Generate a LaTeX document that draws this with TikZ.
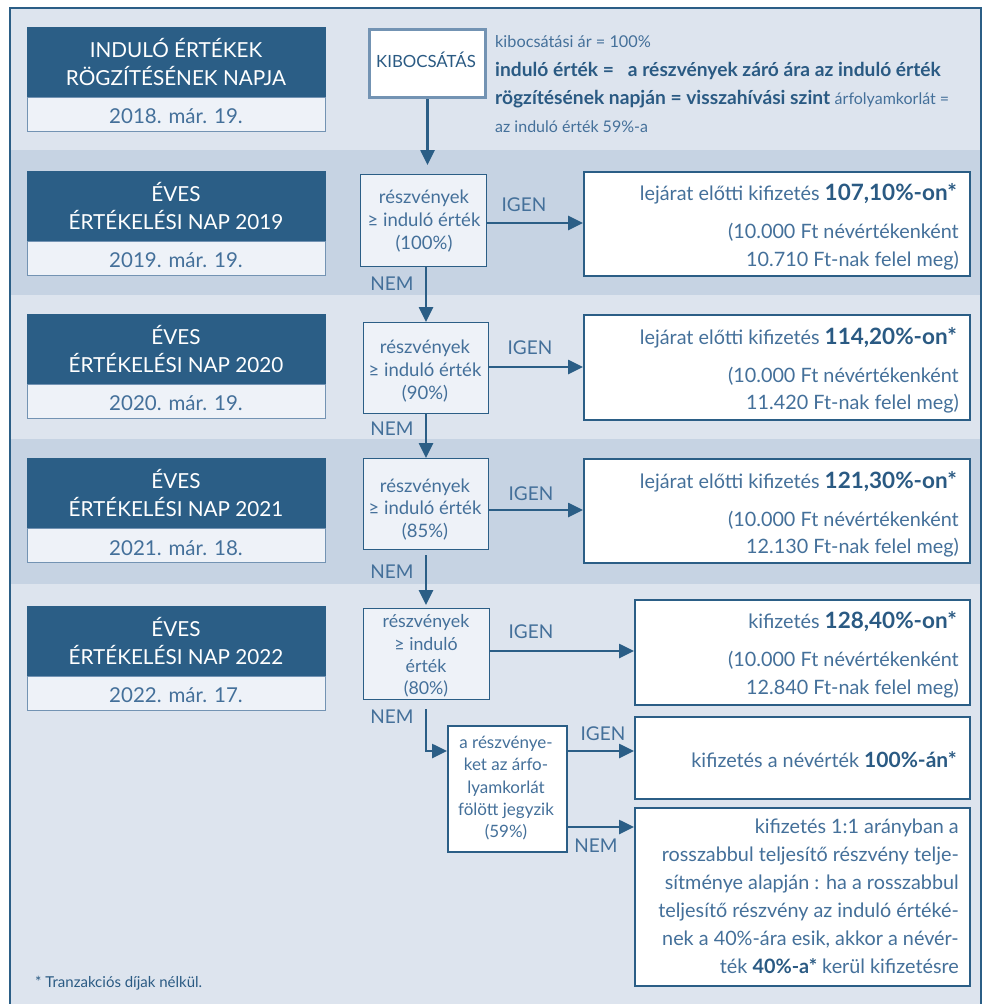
\documentclass[tikz,border=0pt]{standalone}
\usepackage{fontspec}
\setmainfont{Lato}
\usetikzlibrary{arrows.meta}
\definecolor{hdr}{HTML}{2B5E86}
\definecolor{bandL}{HTML}{DDE4EE}
\definecolor{bandD}{HTML}{C6D3E3}
\definecolor{cellL}{HTML}{EEF2F8}
\definecolor{txt}{HTML}{44709A}
\definecolor{btxt}{HTML}{2A5A83}
\definecolor{lbord}{HTML}{7393B3}
\newcommand{\bignum}[1]{\textcolor{btxt}{\bfseries\fontsize{22.5}{26}\selectfont #1}}
\tikzset{
  hdrtop/.style={fill=hdr, draw=hdr, line width=1pt, anchor=north west, minimum width=298pt, minimum height=70pt, inner sep=0pt},
  hdrbot/.style={fill=cellL, draw=lbord, line width=1.2pt, anchor=north west, minimum width=298pt, minimum height=34pt, inner sep=0pt},
  htxt/.style={text=white, font=\fontsize{20.7}{24}\selectfont, anchor=base, inner sep=0pt},
  dtxt/.style={text=txt, font=\fontsize{20.5}{24}\selectfont, anchor=base, inner sep=0pt},
  decbox/.style={fill=cellL, draw=hdr, line width=1.3pt, anchor=north west, inner sep=0pt},
  resbox/.style={fill=white, draw=hdr, line width=1.6pt, anchor=north west, inner sep=0pt},
  ctxt/.style={text=txt, font=\fontsize{18.5}{22}\selectfont, anchor=base, inner sep=0pt},
  c4txt/.style={text=txt, font=\fontsize{17.8}{22}\selectfont, anchor=base, inner sep=0pt},
  c5txt/.style={text=txt, font=\fontsize{17}{20}\selectfont, anchor=base, inner sep=0pt},
  rtxt/.style={text=txt, font=\fontsize{19.8}{24}\selectfont, anchor=base east, inner sep=0pt},
  ltxt/.style={text=txt, font=\fontsize{19}{22}\selectfont, anchor=base, inner sep=0pt},
  arr/.style={draw=hdr, line width=2.6pt, -{Triangle[length=15pt,width=14pt]}},
}
\begin{document}
\begin{tikzpicture}[x=1pt,y=-1pt]
\useasboundingbox (0,0) rectangle (987,1004);
\fill[white] (0,0) rectangle (987,1004);
% bands
\fill[bandL] (10,8) rectangle (981,150);
\fill[bandD] (10,150) rectangle (981,295);
\fill[bandL] (10,295) rectangle (981,439);
\fill[bandD] (10,439) rectangle (981,584);
\fill[bandL] (10,584) rectangle (981,1004);
\draw[hdr, line width=1.5pt] (10,1004) -- (10,8) -- (981,8) -- (981,1004);

% header boxes
\node[hdrtop] (h0t) at (27,27) {};
\node[hdrbot] (h0b) at (27,97) {};
\node[htxt] (h0a) at (176,57) {INDULÓ ÉRTÉKEK};
\node[htxt] (h0c) at (176,85) {RÖGZÍTÉSÉNEK NAPJA};
\node[dtxt] (h0d) at (176,123) {2018. már. 19.};

\node[hdrtop] (h1t) at (27,171) {};
\node[hdrbot] (h1b) at (27,241) {};
\node[htxt] (h1a) at (176,201) {ÉVES};
\node[htxt] (h1c) at (176,229) {ÉRTÉKELÉSI NAP 2019};
\node[dtxt] (h1d) at (176,267) {2019. már. 19.};

\node[hdrtop] (h2t) at (27,314) {};
\node[hdrbot] (h2b) at (27,384) {};
\node[htxt] (h2a) at (176,344) {ÉVES};
\node[htxt] (h2c) at (176,372) {ÉRTÉKELÉSI NAP 2020};
\node[dtxt] (h2d) at (176,410) {2020. már. 19.};

\node[hdrtop] (h3t) at (27,458) {};
\node[hdrbot] (h3b) at (27,528) {};
\node[htxt] (h3a) at (176,488) {ÉVES};
\node[htxt] (h3c) at (176,516) {ÉRTÉKELÉSI NAP 2021};
\node[dtxt] (h3d) at (176,555) {2021. már. 18.};

\node[hdrtop] (h4t) at (27,606) {};
\node[hdrbot] (h4b) at (27,676) {};
\node[htxt] (h4a) at (176,636) {ÉVES};
\node[htxt] (h4c) at (176,664) {ÉRTÉKELÉSI NAP 2022};
\node[dtxt] (h4d) at (176,702) {2022. már. 17.};

% kibocsatas
\node[fill=white, draw=lbord, line width=3pt, anchor=north west, minimum width=116pt, minimum height=68pt, inner sep=0pt] (k) at (368,28) {};
\node[text=btxt, font=\fontsize{16.8}{20}\selectfont, anchor=base, inner sep=0pt] (kt) at (426,67) {KIBOCSÁTÁS};

% top text
\node[text=txt, font=\fontsize{16.3}{19}\selectfont, anchor=base west, inner sep=0pt] (t1) at (495,47) {kibocsátási ár = 100\%};
\node[text=btxt, font=\fontsize{19.2}{22}\selectfont\bfseries, anchor=base west, inner sep=0pt] (t2) at (495,76) {induló érték =\hspace{14pt}a részvények záró ára az induló érték};
\node[anchor=base west, inner sep=0pt] (t3) at (495,104) {\fontsize{19.2}{22}\selectfont\bfseries\color{btxt}rögzítésének napján = visszahívási szint \fontsize{16}{19}\selectfont\mdseries\color{txt}árfolyamkorlát =};
\node[text=txt, font=\fontsize{16}{19}\selectfont, anchor=base west, inner sep=0pt] (t4) at (495,132) {az induló érték 59\%-a};

% decision boxes
\node[decbox, minimum width=126pt, minimum height=92pt] (d1) at (360,174) {};
\node[ctxt] (d1a) at (424,203) {részvények};
\node[ctxt] (d1b) at (424,226) {≥ induló érték};
\node[ctxt] (d1c) at (424,249) {(100\%)};

\node[decbox, minimum width=125pt, minimum height=91pt] (d2) at (363,322) {};
\node[ctxt] (d2a) at (425,353) {részvények};
\node[ctxt] (d2b) at (425,376) {≥ induló érték};
\node[ctxt] (d2c) at (425,399) {(90\%)};

\node[decbox, minimum width=125pt, minimum height=91pt] (d3) at (363,458) {};
\node[ctxt] (d3a) at (425,492) {részvények};
\node[ctxt] (d3b) at (425,514) {≥ induló érték};
\node[ctxt] (d3c) at (425,537) {(85\%)};

\node[decbox, minimum width=126pt, minimum height=91pt] (d4) at (363,608) {};
\node[c4txt] (d4a) at (426,627) {részvények};
\node[c4txt] (d4b) at (426,650) {≥ induló};
\node[c4txt] (d4c) at (426,672) {érték};
\node[c4txt] (d4d) at (426,694) {(80\%)};

\node[resbox, minimum width=119pt, minimum height=126pt] (b5) at (447,725) {};
\node[c5txt] (b5a) at (506,748) {a részvénye-};
\node[c5txt] (b5b) at (506,770) {ket az árfo-};
\node[c5txt] (b5c) at (506,793) {lyamkorlát};
\node[c5txt] (b5d) at (506,815) {fölött jegyzik};
\node[c5txt] (b5e) at (506,837) {(59\%)};

% result boxes
\node[resbox, minimum width=386pt, minimum height=104pt] (r1) at (583,171) {};
\node[rtxt] (r1a) at (957,200) {lejárat előtti kifizetés \bignum{107,10\%-on*}};
\node[rtxt] (r1b) at (959,238) {(10.000 Ft névértékenként};
\node[rtxt] (r1c) at (959,266) {10.710 Ft-nak felel meg)};

\node[resbox, minimum width=386pt, minimum height=105pt] (r2) at (583,314) {};
\node[rtxt] (r2a) at (957,344) {lejárat előtti kifizetés \bignum{114,20\%-on*}};
\node[rtxt] (r2b) at (959,382) {(10.000 Ft névértékenként};
\node[rtxt] (r2c) at (959,409) {11.420 Ft-nak felel meg)};

\node[resbox, minimum width=386pt, minimum height=104pt] (r3) at (583,458) {};
\node[rtxt] (r3a) at (957,488) {lejárat előtti kifizetés \bignum{121,30\%-on*}};
\node[rtxt] (r3b) at (959,526) {(10.000 Ft névértékenként};
\node[rtxt] (r3c) at (959,553) {12.130 Ft-nak felel meg)};

\node[resbox, minimum width=335pt, minimum height=105pt] (r4) at (634,599) {};
\node[rtxt] (r4a) at (957,628) {kifizetés \bignum{128,40\%-on*}};
\node[rtxt] (r4b) at (959,666) {(10.000 Ft névértékenként};
\node[rtxt] (r4c) at (959,694) {12.840 Ft-nak felel meg)};

\node[resbox, minimum width=335pt, minimum height=82pt] (r5) at (634,716) {};
\node[rtxt] (r5a) at (957,767) {kifizetés a névérték \textcolor{btxt}{\bfseries\fontsize{21}{24}\selectfont 100\%-án*}};

\node[resbox, minimum width=335pt, minimum height=178pt] (r6) at (634,807) {};
\node[rtxt] (r6a) at (959,833) {kifizetés 1:1 arányban a};
\node[rtxt] (r6b) at (959,861) {rosszabbul teljesítő részvény telje-};
\node[rtxt] (r6c) at (959,889) {sítménye alapján : ha a rosszabbul};
\node[rtxt] (r6d) at (959,917) {teljesítő részvény az induló értéké-};
\node[rtxt] (r6e) at (959,945) {nek a 40\%-ára esik, akkor a névér-};
\node[rtxt] (r6f) at (959,973) {ték \textcolor{btxt}{\bfseries 40\%-a*} kerül kifizetésre};

% labels
\node[ltxt] (n1) at (392,290) {NEM};
\node[ltxt] (n2) at (392,435) {NEM};
\node[ltxt] (n3) at (392,578) {NEM};
\node[ltxt] (n4) at (392,723) {NEM};
\node[ltxt] (n5) at (596,852) {NEM};
\node[ltxt] (i1) at (524,211) {IGEN};
\node[ltxt] (i2) at (530,354) {IGEN};
\node[ltxt] (i3) at (531,500) {IGEN};
\node[ltxt] (i4) at (531,638) {IGEN};
\node[ltxt] (i5) at (603,740) {IGEN};

% arrows
\draw[arr, shorten >=9pt] (k.south) -- (k.south |- d1.north);
\draw[arr] (d1.south -| 426,0) -- (d2.north -| 426,0);
\draw[arr] (d2.south -| 426,0) -- (d3.north -| 426,0);
\draw[arr, shorten <=5pt, shorten >=3pt] (d3.south -| 426,0) -- (d4.north -| 426,0);
\draw[arr] ([yshift=-9pt]d4.south -| 426,0) -- (426,751) -- (b5.west |- 0,751);
\draw[arr] (d1.east |- 0,223) -- (r1.west |- 0,223);
\draw[arr] (d2.east |- 0,367) -- (r2.west |- 0,367);
\draw[arr] (d3.east |- 0,510) -- (r3.west |- 0,510);
\draw[arr] (d4.east |- 0,651) -- (r4.west |- 0,651);
\draw[arr] (b5.east |- 0,751) -- (r5.west |- 0,751);
\draw[arr] (b5.east |- 0,827) -- (r6.west |- 0,827);

% footnote
\node[text=btxt, font=\fontsize{15}{18}\selectfont, anchor=base west, inner sep=0pt] (fn) at (35,987) {* Tranzakciós díjak nélkül.};
\end{tikzpicture}
\end{document}
